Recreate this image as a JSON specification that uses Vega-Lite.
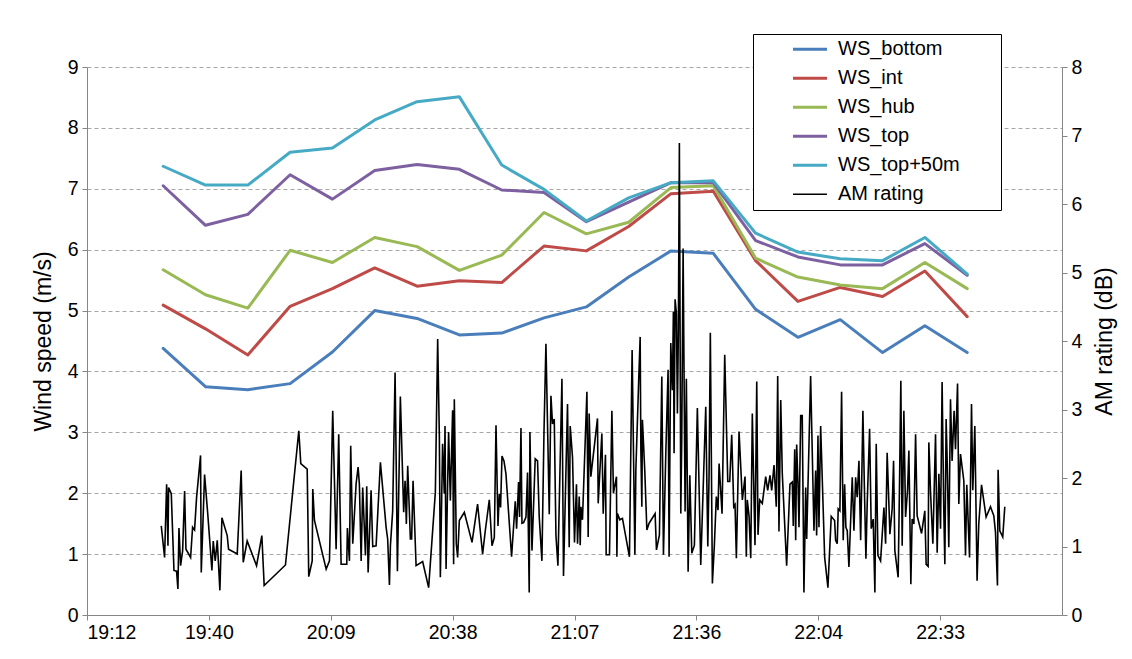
{
  "$schema": "https://vega.github.io/schema/vega-lite/v6.json",
  "width": 975,
  "height": 548,
  "autosize": {"type": "none"},
  "padding": {"left": 87, "top": 67, "right": 70, "bottom": 44},
  "background": "#ffffff",
  "config": {
    "view": {"stroke": null},
    "font": "Liberation Sans",
    "axis": {
      "labelFont": "Liberation Sans", "labelFontSize": 19.5, "labelColor": "#000000",
      "titleFont": "Liberation Sans", "titleFontSize": 23, "titleFontWeight": "normal", "titleColor": "#000000",
      "domainColor": "#868686", "tickColor": "#868686", "tickSize": 5, "labelPadding": 4,
      "gridColor": "#a6a6a6", "gridDash": [4, 3]
    },
    "legend": {
      "symbolType": "stroke", "symbolSize": 1156, "symbolStrokeWidth": 3,
      "clipHeight": 28.5, "rowPadding": 0, "padding": 1,
      "symbolOffset": 46, "labelOffset": 18,
      "labelFont": "Liberation Sans", "labelFontSize": 20, "labelColor": "#000000", "labelLimit": 400,
      "titleFont": "Liberation Sans", "titleFontSize": 20,
      "strokeColor": "#000000", "fillColor": "#ffffff"
    }
  },
  "layer": [
    {
      "data": {
        "values": [
          {"time": "19:30:00", "WS_bottom": 4.38, "WS_int": 5.09, "WS_hub": 5.67, "WS_top": 7.05, "WS_top+50m": 7.37},
          {"time": "19:40:00", "WS_bottom": 3.75, "WS_int": 4.70, "WS_hub": 5.26, "WS_top": 6.40, "WS_top+50m": 7.06},
          {"time": "19:50:00", "WS_bottom": 3.70, "WS_int": 4.27, "WS_hub": 5.04, "WS_top": 6.58, "WS_top+50m": 7.06},
          {"time": "20:00:00", "WS_bottom": 3.80, "WS_int": 5.07, "WS_hub": 5.99, "WS_top": 7.23, "WS_top+50m": 7.60},
          {"time": "20:10:00", "WS_bottom": 4.32, "WS_int": 5.36, "WS_hub": 5.79, "WS_top": 6.83, "WS_top+50m": 7.67},
          {"time": "20:20:00", "WS_bottom": 5.00, "WS_int": 5.70, "WS_hub": 6.20, "WS_top": 7.30, "WS_top+50m": 8.13},
          {"time": "20:30:00", "WS_bottom": 4.87, "WS_int": 5.40, "WS_hub": 6.05, "WS_top": 7.40, "WS_top+50m": 8.43},
          {"time": "20:40:00", "WS_bottom": 4.60, "WS_int": 5.49, "WS_hub": 5.66, "WS_top": 7.32, "WS_top+50m": 8.51},
          {"time": "20:50:00", "WS_bottom": 4.63, "WS_int": 5.46, "WS_hub": 5.91, "WS_top": 6.98, "WS_top+50m": 7.39},
          {"time": "21:00:00", "WS_bottom": 4.88, "WS_int": 6.06, "WS_hub": 6.61, "WS_top": 6.94, "WS_top+50m": 6.99},
          {"time": "21:10:00", "WS_bottom": 5.06, "WS_int": 5.98, "WS_hub": 6.26, "WS_top": 6.46, "WS_top+50m": 6.47},
          {"time": "21:20:00", "WS_bottom": 5.55, "WS_int": 6.38, "WS_hub": 6.45, "WS_top": 6.78, "WS_top+50m": 6.85},
          {"time": "21:30:00", "WS_bottom": 5.98, "WS_int": 6.92, "WS_hub": 7.02, "WS_top": 7.10, "WS_top+50m": 7.10},
          {"time": "21:40:00", "WS_bottom": 5.94, "WS_int": 6.96, "WS_hub": 7.05, "WS_top": 7.10, "WS_top+50m": 7.13},
          {"time": "21:50:00", "WS_bottom": 5.02, "WS_int": 5.82, "WS_hub": 5.86, "WS_top": 6.15, "WS_top+50m": 6.27},
          {"time": "22:00:00", "WS_bottom": 4.56, "WS_int": 5.15, "WS_hub": 5.55, "WS_top": 5.88, "WS_top+50m": 5.96},
          {"time": "22:10:00", "WS_bottom": 4.85, "WS_int": 5.38, "WS_hub": 5.42, "WS_top": 5.75, "WS_top+50m": 5.85},
          {"time": "22:20:00", "WS_bottom": 4.31, "WS_int": 5.23, "WS_hub": 5.36, "WS_top": 5.75, "WS_top+50m": 5.82},
          {"time": "22:30:00", "WS_bottom": 4.75, "WS_int": 5.65, "WS_hub": 5.79, "WS_top": 6.10, "WS_top+50m": 6.20},
          {"time": "22:40:00", "WS_bottom": 4.31, "WS_int": 4.90, "WS_hub": 5.36, "WS_top": 5.58, "WS_top+50m": 5.60}
        ],
        "format": {"parse": {"time": "utc:'%H:%M:%S'"}}
      },
      "transform": [
        {"fold": ["WS_bottom", "WS_int", "WS_hub", "WS_top", "WS_top+50m"], "as": ["series", "speed"]}
      ],
      "mark": {"type": "line", "strokeWidth": 3, "strokeCap": "round", "strokeJoin": "round"},
      "encoding": {
        "x": {
          "field": "time", "type": "temporal",
          "scale": {
            "type": "utc", "nice": false,
            "domain": [
              {"year": 1900, "month": 1, "date": 1, "hours": 19, "minutes": 12, "utc": true},
              {"year": 1900, "month": 1, "date": 1, "hours": 23, "minutes": 2, "seconds": 24, "utc": true}
            ]
          },
          "axis": {
            "title": null, "grid": false, "labelPadding": 3,
            "values": [
              {"year": 1900, "month": 1, "date": 1, "hours": 19, "minutes": 12, "utc": true},
              {"year": 1900, "month": 1, "date": 1, "hours": 19, "minutes": 40, "seconds": 48, "utc": true},
              {"year": 1900, "month": 1, "date": 1, "hours": 20, "minutes": 9, "seconds": 36, "utc": true},
              {"year": 1900, "month": 1, "date": 1, "hours": 20, "minutes": 38, "seconds": 24, "utc": true},
              {"year": 1900, "month": 1, "date": 1, "hours": 21, "minutes": 7, "seconds": 12, "utc": true},
              {"year": 1900, "month": 1, "date": 1, "hours": 21, "minutes": 36, "utc": true},
              {"year": 1900, "month": 1, "date": 1, "hours": 22, "minutes": 4, "seconds": 48, "utc": true},
              {"year": 1900, "month": 1, "date": 1, "hours": 22, "minutes": 33, "seconds": 36, "utc": true}
            ],
            "labelExpr": "utcFormat(datum.value, '%H:%M')"
          }
        },
        "y": {
          "field": "speed", "type": "quantitative",
          "scale": {"domain": [0, 9], "nice": false},
          "axis": {"title": "Wind speed (m/s)", "values": [0, 1, 2, 3, 4, 5, 6, 7, 8, 9], "grid": true, "titlePadding": 12}
        },
        "color": {
          "field": "series", "type": "nominal",
          "scale": {
            "domain": ["WS_bottom", "WS_int", "WS_hub", "WS_top", "WS_top+50m", "AM rating"],
            "range": ["#4A7EBB", "#BE4B48", "#98B954", "#7D60A0", "#46AAC5", "#000000"]
          },
          "legend": {
            "orient": "none", "legendX": 666, "legendY": -33,
            "title": " ", "titleOrient": "right", "titlePadding": 40,
            "encode": {"symbols": {"update": {"strokeWidth": {"signal": "datum.value === 'AM rating' ? 1.5 : 3"}}}}
          }
        },
        "order": {"field": "time", "type": "temporal"}
      }
    },
    {
      "data": {
        "values": [
          {"time": "19:29:33", "AM": 1.30}, {"time": "19:30:20", "AM": 0.84}, {"time": "19:30:49", "AM": 1.91}, {"time": "19:31:08", "AM": 1.01},
          {"time": "19:31:17", "AM": 1.86}, {"time": "19:31:55", "AM": 1.77}, {"time": "19:32:33", "AM": 0.65}, {"time": "19:33:10", "AM": 0.64},
          {"time": "19:33:29", "AM": 0.38}, {"time": "19:33:44", "AM": 1.27}, {"time": "19:34:07", "AM": 0.72}, {"time": "19:34:36", "AM": 0.94},
          {"time": "19:35:04", "AM": 1.81}, {"time": "19:35:23", "AM": 0.96}, {"time": "19:36:29", "AM": 0.84}, {"time": "19:36:57", "AM": 1.28},
          {"time": "19:37:25", "AM": 1.24}, {"time": "19:37:54", "AM": 1.72}, {"time": "19:38:50", "AM": 2.33}, {"time": "19:39:00", "AM": 0.62},
          {"time": "19:39:47", "AM": 2.05}, {"time": "19:40:34", "AM": 1.45}, {"time": "19:41:31", "AM": 0.65}, {"time": "19:41:50", "AM": 1.08},
          {"time": "19:42:18", "AM": 0.79}, {"time": "19:42:47", "AM": 1.09}, {"time": "19:43:24", "AM": 0.36}, {"time": "19:43:53", "AM": 1.42},
          {"time": "19:45:08", "AM": 1.16}, {"time": "19:45:27", "AM": 0.96}, {"time": "19:47:30", "AM": 0.89}, {"time": "19:48:26", "AM": 2.11},
          {"time": "19:48:55", "AM": 0.77}, {"time": "19:49:51", "AM": 1.08}, {"time": "19:52:04", "AM": 0.72}, {"time": "19:53:19", "AM": 1.16},
          {"time": "19:53:52", "AM": 0.43}, {"time": "19:58:54", "AM": 0.73}, {"time": "20:02:03", "AM": 2.69}, {"time": "20:02:31", "AM": 2.21},
          {"time": "20:04:02", "AM": 2.13}, {"time": "20:04:24", "AM": 0.56}, {"time": "20:05:13", "AM": 0.79}, {"time": "20:05:21", "AM": 1.84},
          {"time": "20:05:45", "AM": 1.38}, {"time": "20:08:31", "AM": 0.67}, {"time": "20:09:18", "AM": 0.79}, {"time": "20:10:04", "AM": 2.98},
          {"time": "20:10:52", "AM": 0.96}, {"time": "20:11:29", "AM": 2.64}, {"time": "20:12:03", "AM": 0.74}, {"time": "20:13:23", "AM": 0.74},
          {"time": "20:13:32", "AM": 1.27}, {"time": "20:14:01", "AM": 0.79}, {"time": "20:14:19", "AM": 2.47}, {"time": "20:14:48", "AM": 1.04},
          {"time": "20:15:36", "AM": 1.92}, {"time": "20:16:04", "AM": 2.16}, {"time": "20:16:22", "AM": 1.91}, {"time": "20:16:47", "AM": 0.79},
          {"time": "20:17:09", "AM": 1.86}, {"time": "20:17:48", "AM": 0.87}, {"time": "20:18:06", "AM": 1.88}, {"time": "20:18:26", "AM": 0.62},
          {"time": "20:19:08", "AM": 1.82}, {"time": "20:19:31", "AM": 1.00}, {"time": "20:20:19", "AM": 1.01}, {"time": "20:21:20", "AM": 2.23},
          {"time": "20:22:41", "AM": 1.28}, {"time": "20:23:03", "AM": 1.11}, {"time": "20:23:28", "AM": 0.44}, {"time": "20:23:42", "AM": 1.01},
          {"time": "20:24:14", "AM": 1.52}, {"time": "20:24:48", "AM": 3.54}, {"time": "20:25:07", "AM": 1.96}, {"time": "20:25:21", "AM": 0.64},
          {"time": "20:26:03", "AM": 3.19}, {"time": "20:26:50", "AM": 1.50}, {"time": "20:27:10", "AM": 1.96}, {"time": "20:27:28", "AM": 1.33},
          {"time": "20:27:47", "AM": 2.18}, {"time": "20:28:25", "AM": 1.11}, {"time": "20:28:43", "AM": 1.11}, {"time": "20:29:03", "AM": 1.96},
          {"time": "20:29:46", "AM": 0.72}, {"time": "20:31:19", "AM": 0.78}, {"time": "20:32:44", "AM": 0.40}, {"time": "20:34:19", "AM": 1.79},
          {"time": "20:34:52", "AM": 4.03}, {"time": "20:35:16", "AM": 2.59}, {"time": "20:35:30", "AM": 0.55}, {"time": "20:36:02", "AM": 2.50},
          {"time": "20:36:26", "AM": 1.77}, {"time": "20:36:36", "AM": 2.76}, {"time": "20:36:51", "AM": 0.67}, {"time": "20:37:27", "AM": 2.67},
          {"time": "20:37:52", "AM": 1.67}, {"time": "20:38:24", "AM": 2.99}, {"time": "20:38:38", "AM": 0.74}, {"time": "20:38:48", "AM": 3.15},
          {"time": "20:39:16", "AM": 1.04}, {"time": "20:39:35", "AM": 0.84}, {"time": "20:39:59", "AM": 1.38}, {"time": "20:41:10", "AM": 1.50},
          {"time": "20:42:59", "AM": 1.06}, {"time": "20:44:18", "AM": 1.62}, {"time": "20:45:29", "AM": 0.89}, {"time": "20:46:07", "AM": 1.23},
          {"time": "20:47:04", "AM": 1.68}, {"time": "20:47:42", "AM": 1.01}, {"time": "20:48:15", "AM": 1.13}, {"time": "20:48:39", "AM": 2.77},
          {"time": "20:49:07", "AM": 1.30}, {"time": "20:49:26", "AM": 1.77}, {"time": "20:49:44", "AM": 1.57}, {"time": "20:50:04", "AM": 2.32},
          {"time": "20:50:32", "AM": 2.25}, {"time": "20:51:00", "AM": 2.06}, {"time": "20:52:20", "AM": 0.85}, {"time": "20:53:12", "AM": 1.66},
          {"time": "20:53:31", "AM": 1.26}, {"time": "20:53:59", "AM": 1.94}, {"time": "20:54:13", "AM": 1.43}, {"time": "20:54:33", "AM": 2.73},
          {"time": "20:54:47", "AM": 1.34}, {"time": "20:55:10", "AM": 1.35}, {"time": "20:55:44", "AM": 1.43}, {"time": "20:56:06", "AM": 2.08},
          {"time": "20:56:30", "AM": 0.33}, {"time": "20:56:40", "AM": 2.67}, {"time": "20:57:09", "AM": 0.94}, {"time": "20:57:55", "AM": 2.28},
          {"time": "20:58:28", "AM": 2.25}, {"time": "20:58:52", "AM": 1.43}, {"time": "20:59:30", "AM": 0.79}, {"time": "20:59:59", "AM": 2.65},
          {"time": "21:00:27", "AM": 3.96}, {"time": "21:00:55", "AM": 2.50}, {"time": "21:01:14", "AM": 1.47}, {"time": "21:01:38", "AM": 3.20},
          {"time": "21:02:00", "AM": 2.79}, {"time": "21:02:25", "AM": 2.86}, {"time": "21:02:49", "AM": 1.16}, {"time": "21:03:17", "AM": 0.72},
          {"time": "21:04:14", "AM": 3.45}, {"time": "21:04:36", "AM": 0.57}, {"time": "21:05:33", "AM": 3.08}, {"time": "21:05:57", "AM": 0.99},
          {"time": "21:06:11", "AM": 2.76}, {"time": "21:06:44", "AM": 2.30}, {"time": "21:07:12", "AM": 1.06}, {"time": "21:07:40", "AM": 1.91},
          {"time": "21:07:55", "AM": 1.04}, {"time": "21:08:19", "AM": 1.73}, {"time": "21:08:33", "AM": 1.02}, {"time": "21:08:43", "AM": 1.58},
          {"time": "21:09:05", "AM": 1.39}, {"time": "21:10:08", "AM": 3.26}, {"time": "21:10:26", "AM": 1.14}, {"time": "21:10:40", "AM": 2.94},
          {"time": "21:11:04", "AM": 2.02}, {"time": "21:12:38", "AM": 2.87}, {"time": "21:12:48", "AM": 1.63}, {"time": "21:13:40", "AM": 2.65},
          {"time": "21:13:59", "AM": 1.48}, {"time": "21:14:31", "AM": 2.34}, {"time": "21:14:41", "AM": 0.88}, {"time": "21:15:28", "AM": 0.88},
          {"time": "21:16:02", "AM": 2.98}, {"time": "21:16:24", "AM": 1.78}, {"time": "21:17:07", "AM": 2.02}, {"time": "21:17:13", "AM": 0.85},
          {"time": "21:17:21", "AM": 1.48}, {"time": "21:17:55", "AM": 1.39}, {"time": "21:18:32", "AM": 1.41}, {"time": "21:20:11", "AM": 0.85},
          {"time": "21:20:49", "AM": 3.87}, {"time": "21:21:28", "AM": 0.88}, {"time": "21:21:42", "AM": 2.12}, {"time": "21:22:24", "AM": 3.48},
          {"time": "21:22:43", "AM": 4.06}, {"time": "21:22:53", "AM": 2.41}, {"time": "21:23:07", "AM": 1.58}, {"time": "21:23:15", "AM": 2.85},
          {"time": "21:23:49", "AM": 2.09}, {"time": "21:24:18", "AM": 1.24}, {"time": "21:24:50", "AM": 1.34}, {"time": "21:26:15", "AM": 1.48},
          {"time": "21:26:34", "AM": 0.95}, {"time": "21:27:16", "AM": 1.17}, {"time": "21:27:50", "AM": 3.48}, {"time": "21:28:13", "AM": 0.88},
          {"time": "21:28:47", "AM": 2.38}, {"time": "21:29:19", "AM": 3.58}, {"time": "21:29:33", "AM": 0.85}, {"time": "21:29:57", "AM": 3.97},
          {"time": "21:30:20", "AM": 3.28}, {"time": "21:30:34", "AM": 4.43}, {"time": "21:30:44", "AM": 2.36}, {"time": "21:30:58", "AM": 4.61},
          {"time": "21:31:17", "AM": 4.40}, {"time": "21:31:31", "AM": 2.94}, {"time": "21:31:45", "AM": 4.18}, {"time": "21:31:59", "AM": 6.89},
          {"time": "21:32:19", "AM": 1.48}, {"time": "21:32:33", "AM": 2.60}, {"time": "21:32:52", "AM": 5.35}, {"time": "21:33:20", "AM": 1.51},
          {"time": "21:33:38", "AM": 3.45}, {"time": "21:34:03", "AM": 0.63}, {"time": "21:34:27", "AM": 2.04}, {"time": "21:34:55", "AM": 0.90},
          {"time": "21:35:32", "AM": 1.02}, {"time": "21:36:14", "AM": 3.02}, {"time": "21:36:28", "AM": 2.36}, {"time": "21:37:02", "AM": 0.73},
          {"time": "21:38:13", "AM": 3.04}, {"time": "21:38:42", "AM": 1.00}, {"time": "21:39:00", "AM": 2.04}, {"time": "21:39:18", "AM": 4.12},
          {"time": "21:39:47", "AM": 0.46}, {"time": "21:40:15", "AM": 1.02}, {"time": "21:40:43", "AM": 1.73}, {"time": "21:41:07", "AM": 1.53},
          {"time": "21:41:22", "AM": 2.21}, {"time": "21:42:04", "AM": 1.48}, {"time": "21:42:42", "AM": 3.80}, {"time": "21:43:25", "AM": 1.95},
          {"time": "21:43:53", "AM": 1.95}, {"time": "21:44:21", "AM": 2.63}, {"time": "21:44:50", "AM": 1.58}, {"time": "21:45:08", "AM": 1.61},
          {"time": "21:45:27", "AM": 0.83}, {"time": "21:46:05", "AM": 2.68}, {"time": "21:46:52", "AM": 1.68}, {"time": "21:47:30", "AM": 2.02},
          {"time": "21:47:48", "AM": 0.85}, {"time": "21:48:02", "AM": 1.68}, {"time": "21:48:27", "AM": 1.44}, {"time": "21:48:51", "AM": 0.83},
          {"time": "21:49:13", "AM": 2.94}, {"time": "21:49:51", "AM": 1.02}, {"time": "21:50:16", "AM": 3.41}, {"time": "21:50:34", "AM": 1.17},
          {"time": "21:50:58", "AM": 1.68}, {"time": "21:51:35", "AM": 1.63}, {"time": "21:52:23", "AM": 2.02}, {"time": "21:52:51", "AM": 1.82},
          {"time": "21:53:24", "AM": 2.04}, {"time": "21:53:48", "AM": 1.82}, {"time": "21:54:21", "AM": 2.19}, {"time": "21:54:53", "AM": 1.58},
          {"time": "21:55:13", "AM": 3.49}, {"time": "21:55:31", "AM": 1.22}, {"time": "21:55:56", "AM": 3.14}, {"time": "21:56:18", "AM": 2.07},
          {"time": "21:57:20", "AM": 0.72}, {"time": "21:58:07", "AM": 1.91}, {"time": "21:58:40", "AM": 1.94}, {"time": "21:58:54", "AM": 1.30},
          {"time": "21:59:14", "AM": 2.42}, {"time": "21:59:28", "AM": 1.09}, {"time": "21:59:42", "AM": 2.49}, {"time": "22:00:01", "AM": 1.91},
          {"time": "22:00:15", "AM": 1.28}, {"time": "22:00:39", "AM": 2.91}, {"time": "22:01:01", "AM": 2.91}, {"time": "22:01:16", "AM": 1.35},
          {"time": "22:01:25", "AM": 0.33}, {"time": "22:01:50", "AM": 1.86}, {"time": "22:02:04", "AM": 1.11}, {"time": "22:03:00", "AM": 3.49},
          {"time": "22:03:47", "AM": 1.23}, {"time": "22:04:11", "AM": 2.11}, {"time": "22:04:25", "AM": 1.16}, {"time": "22:04:44", "AM": 2.62},
          {"time": "22:04:58", "AM": 1.28}, {"time": "22:05:22", "AM": 2.76}, {"time": "22:06:19", "AM": 0.84}, {"time": "22:07:05", "AM": 0.40},
          {"time": "22:07:52", "AM": 1.44}, {"time": "22:08:40", "AM": 1.38}, {"time": "22:08:54", "AM": 1.09}, {"time": "22:09:17", "AM": 1.04},
          {"time": "22:09:31", "AM": 1.55}, {"time": "22:09:55", "AM": 1.52}, {"time": "22:10:19", "AM": 3.26}, {"time": "22:10:42", "AM": 1.09},
          {"time": "22:11:02", "AM": 1.91}, {"time": "22:11:20", "AM": 1.28}, {"time": "22:11:39", "AM": 1.23}, {"time": "22:12:03", "AM": 0.70},
          {"time": "22:12:50", "AM": 2.01}, {"time": "22:13:14", "AM": 1.23}, {"time": "22:13:38", "AM": 2.01}, {"time": "22:14:00", "AM": 1.72},
          {"time": "22:14:25", "AM": 2.25}, {"time": "22:14:49", "AM": 1.09}, {"time": "22:15:03", "AM": 1.86}, {"time": "22:15:21", "AM": 2.98},
          {"time": "22:15:45", "AM": 1.72}, {"time": "22:16:04", "AM": 0.82}, {"time": "22:16:22", "AM": 1.62}, {"time": "22:16:56", "AM": 2.72},
          {"time": "22:17:19", "AM": 1.26}, {"time": "22:17:47", "AM": 1.40}, {"time": "22:18:11", "AM": 0.33}, {"time": "22:18:30", "AM": 2.50},
          {"time": "22:18:54", "AM": 0.87}, {"time": "22:19:32", "AM": 0.79}, {"time": "22:20:19", "AM": 1.57}, {"time": "22:20:43", "AM": 1.04},
          {"time": "22:21:05", "AM": 2.37}, {"time": "22:21:44", "AM": 1.18}, {"time": "22:22:16", "AM": 1.55}, {"time": "22:22:36", "AM": 2.25},
          {"time": "22:22:54", "AM": 0.94}, {"time": "22:23:41", "AM": 0.55}, {"time": "22:24:01", "AM": 1.96}, {"time": "22:24:19", "AM": 3.42},
          {"time": "22:24:38", "AM": 1.01}, {"time": "22:25:02", "AM": 2.98}, {"time": "22:25:26", "AM": 1.43}, {"time": "22:25:54", "AM": 1.82},
          {"time": "22:26:13", "AM": 2.40}, {"time": "22:26:41", "AM": 0.45}, {"time": "22:26:59", "AM": 1.40}, {"time": "22:27:24", "AM": 1.33},
          {"time": "22:27:48", "AM": 2.64}, {"time": "22:28:10", "AM": 1.45}, {"time": "22:29:13", "AM": 1.19}, {"time": "22:29:59", "AM": 1.52},
          {"time": "22:30:18", "AM": 0.74}, {"time": "22:30:46", "AM": 0.71}, {"time": "22:30:56", "AM": 2.52}, {"time": "22:31:20", "AM": 1.79},
          {"time": "22:31:53", "AM": 1.04}, {"time": "22:32:31", "AM": 2.64}, {"time": "22:32:54", "AM": 0.91}, {"time": "22:33:18", "AM": 2.06},
          {"time": "22:33:42", "AM": 1.26}, {"time": "22:34:04", "AM": 3.40}, {"time": "22:34:28", "AM": 1.52}, {"time": "22:34:43", "AM": 0.74},
          {"time": "22:35:01", "AM": 2.86}, {"time": "22:35:15", "AM": 2.30}, {"time": "22:35:39", "AM": 0.99}, {"time": "22:36:03", "AM": 3.15},
          {"time": "22:36:26", "AM": 2.25}, {"time": "22:36:54", "AM": 2.98}, {"time": "22:37:14", "AM": 2.42}, {"time": "22:37:43", "AM": 3.38},
          {"time": "22:38:01", "AM": 1.62}, {"time": "22:38:25", "AM": 2.35}, {"time": "22:39:12", "AM": 1.96}, {"time": "22:39:36", "AM": 0.87},
          {"time": "22:39:54", "AM": 1.90}, {"time": "22:40:33", "AM": 0.84}, {"time": "22:41:01", "AM": 3.08}, {"time": "22:41:19", "AM": 1.82},
          {"time": "22:41:48", "AM": 2.76}, {"time": "22:42:20", "AM": 0.50}, {"time": "22:42:44", "AM": 1.33}, {"time": "22:43:23", "AM": 1.90},
          {"time": "22:44:28", "AM": 1.43}, {"time": "22:45:30", "AM": 1.58}, {"time": "22:46:17", "AM": 1.45}, {"time": "22:46:41", "AM": 1.21},
          {"time": "22:47:09", "AM": 0.43}, {"time": "22:47:18", "AM": 2.12}, {"time": "22:47:42", "AM": 1.23}, {"time": "22:48:24", "AM": 1.14},
          {"time": "22:48:53", "AM": 1.58}
        ],
        "format": {"parse": {"time": "utc:'%H:%M:%S'"}}
      },
      "mark": {"type": "line", "strokeWidth": 1.6, "strokeJoin": "miter"},
      "encoding": {
        "x": {"field": "time", "type": "temporal"},
        "y": {
          "field": "AM", "type": "quantitative",
          "scale": {"domain": [0, 8], "nice": false},
          "axis": {"orient": "right", "title": "AM rating (dB)", "values": [0, 1, 2, 3, 4, 5, 6, 7, 8], "grid": false, "titleAngle": 270, "titleBaseline": "top", "titlePadding": 12}
        },
        "color": {"datum": "AM rating"}
      }
    }
  ],
  "resolve": {"scale": {"y": "independent"}, "axis": {"y": "independent"}}
}
